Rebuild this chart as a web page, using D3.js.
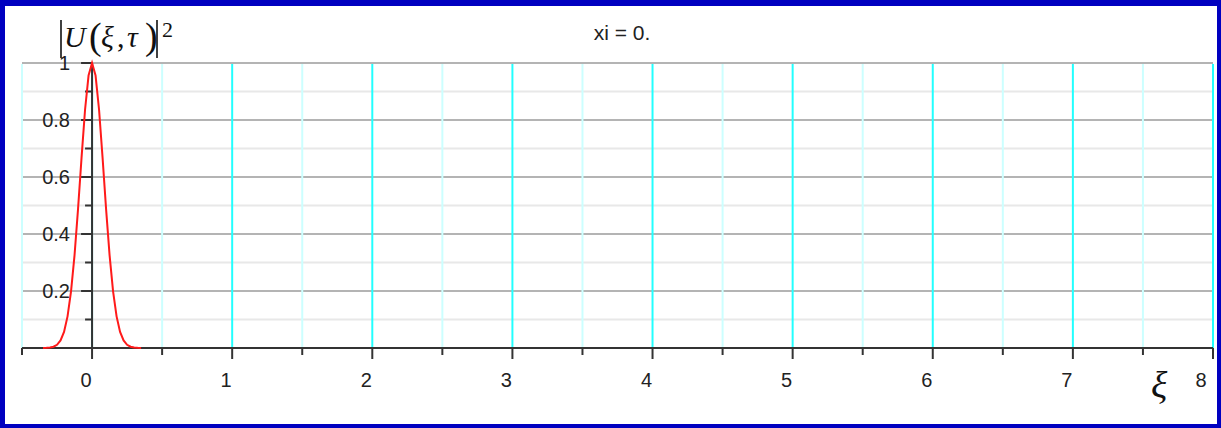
<!DOCTYPE html>
<html>
<head>
<meta charset="utf-8">
<script src="https://cdn.jsdelivr.net/npm/d3@7/dist/d3.min.js"></script>
<style>
  html, body { margin: 0; padding: 0; background: #fff; }
  svg { display: block; }
</style>
</head>
<body>
<svg id="chart" width="1221" height="428"></svg>
<script>
// Pulse intensity |U(xi, tau)|^2 sampled along xi
const xiValues = [-0.35, -0.325, -0.3, -0.275, -0.25, -0.225, -0.2, -0.175, -0.15, -0.125, -0.1, -0.075, -0.05, -0.025,
                  0, 0.025, 0.05, 0.075, 0.1, 0.125, 0.15, 0.175, 0.2, 0.225, 0.25, 0.275, 0.3, 0.325, 0.35];
const intensity = [0.0002, 0.0005, 0.0016, 0.0044, 0.0112, 0.0264, 0.0565, 0.111, 0.199, 0.326, 0.488, 0.668, 0.836, 0.956,
                   1.0, 0.956, 0.836, 0.668, 0.488, 0.326, 0.199, 0.111, 0.0565, 0.0264, 0.0112, 0.0044, 0.0016, 0.0005, 0.0002];

// Axis ticks and labels
const xTickValues = [0, 1, 2, 3, 4, 5, 6, 7, 8];
const xTickLabels = ["0", "1", "2", "3", "4", "5", "6", "7", "8"];
const yTickValues = [0.2, 0.4, 0.6, 0.8, 1];
const yTickLabels = ["0.2", "0.4", "0.6", "0.8", "1"];
const titleText = "xi = 0.";

const W = 1221, H = 428;
const svg = d3.select("#chart");

// Frame
svg.append("rect").attr("x", 0).attr("y", 0).attr("width", W).attr("height", H).attr("fill", "#0000c0");
svg.append("rect").attr("x", 5).attr("y", 6).attr("width", W - 9).attr("height", H - 10).attr("fill", "#ffffff");

const x = d3.scaleLinear().domain([-0.5, 8]).range([22, 1213]);
const y = d3.scaleLinear().domain([0, 1]).range([348, 63]);

// Grid: vertical lines every 0.5, horizontal every 0.1
const halfSteps = d3.range(-0.5, 8.01, 0.5);
const tenthSteps = d3.range(1, 11).map(d => d / 10);

const grid = svg.append("g");
grid.selectAll("line.hg").data(tenthSteps).join("line")
  .attr("x1", x(-0.5)).attr("x2", x(8))
  .attr("y1", d => y(d)).attr("y2", d => y(d))
  .attr("stroke", d => (Math.round(d * 10) % 2 === 0) ? "#b4b4b4" : "#e8e8e8")
  .attr("stroke-width", 2);
grid.selectAll("line.vg").data(halfSteps).join("line")
  .attr("x1", d => x(d)).attr("x2", d => x(d))
  .attr("y1", y(1) + 1).attr("y2", y(0))
  .attr("stroke", d => Number.isInteger(d) ? "#22ffff" : "#ccffff")
  .attr("stroke-width", 2);

// X axis
const axisColor = "#333";
svg.append("line")
  .attr("x1", x(-0.5)).attr("x2", x(8)).attr("y1", y(0)).attr("y2", y(0))
  .attr("stroke", axisColor).attr("stroke-width", 2);
svg.selectAll("line.xt").data(halfSteps).join("line")
  .attr("x1", d => x(d)).attr("x2", d => x(d))
  .attr("y1", y(0)).attr("y2", d => y(0) + (Number.isInteger(d) ? 11 : 7))
  .attr("stroke", axisColor).attr("stroke-width", 2);

// Y axis at xi = 0
svg.append("line")
  .attr("x1", x(0)).attr("x2", x(0)).attr("y1", y(1)).attr("y2", y(0))
  .attr("stroke", axisColor).attr("stroke-width", 2);
svg.selectAll("line.yt").data(tenthSteps).join("line")
  .attr("x1", d => x(0) - ((Math.round(d * 10) % 2 === 0) ? 11 : 7)).attr("x2", x(0))
  .attr("y1", d => y(d)).attr("y2", d => y(d))
  .attr("stroke", axisColor).attr("stroke-width", 2);

const tickFont = "'Liberation Sans', Arial, sans-serif";

svg.selectAll("text.xl").data(xTickValues).join("text")
  .attr("x", d => Math.min(x(d) - 6, 1201))
  .attr("y", 387)
  .attr("text-anchor", "middle")
  .attr("font-family", tickFont).attr("font-size", 20).attr("fill", "#222")
  .text((d, i) => xTickLabels[i]);

svg.selectAll("text.yl").data(yTickValues).join("text")
  .attr("x", 70)
  .attr("y", d => y(d))
  .attr("dy", "0.36em")
  .attr("text-anchor", "end")
  .attr("font-family", tickFont).attr("font-size", 20).attr("fill", "#222")
  .text((d, i) => yTickLabels[i]);

// Title
svg.append("text")
  .attr("x", 622).attr("y", 40)
  .attr("text-anchor", "middle")
  .attr("font-family", tickFont).attr("font-size", 21).attr("fill", "#222")
  .text(titleText);

// Y-axis label |U(ξ,τ)|²
const serif = "'Liberation Serif', 'Times New Roman', serif";
const ylab = svg.append("g").attr("fill", "#111").attr("font-family", serif);
ylab.append("line").attr("x1", 61).attr("x2", 61).attr("y1", 20).attr("y2", 58).attr("stroke", "#111").attr("stroke-width", 1.6);
ylab.append("text").attr("x", 64).attr("y", 47).attr("font-size", 30).attr("font-style", "italic").text("U");
ylab.append("text").attr("x", 89).attr("y", 49).attr("font-size", 38).text("(");
ylab.append("text").attr("x", 101).attr("y", 47).attr("font-size", 30).attr("font-style", "italic").text("ξ");
ylab.append("text").attr("x", 117).attr("y", 47).attr("font-size", 30).text(",");
ylab.append("text").attr("x", 127).attr("y", 47).attr("font-size", 30).attr("font-style", "italic").text("τ");
ylab.append("text").attr("x", 145).attr("y", 49).attr("font-size", 38).text(")");
ylab.append("line").attr("x1", 157).attr("x2", 157).attr("y1", 20).attr("y2", 58).attr("stroke", "#111").attr("stroke-width", 1.6);
ylab.append("text").attr("x", 162).attr("y", 37).attr("font-size", 22).text("2");

// X-axis label ξ
svg.append("text")
  .attr("x", 1151).attr("y", 398)
  .attr("font-family", serif).attr("font-style", "italic").attr("font-size", 38).attr("fill", "#111")
  .text("ξ");

// Pulse curve
const line = d3.line().x((d, i) => x(xiValues[i])).y(d => y(d));
svg.append("path")
  .datum(intensity)
  .attr("d", line)
  .attr("fill", "none")
  .attr("stroke", "#ff1a1a")
  .attr("stroke-width", 2);
</script>
</body>
</html>
